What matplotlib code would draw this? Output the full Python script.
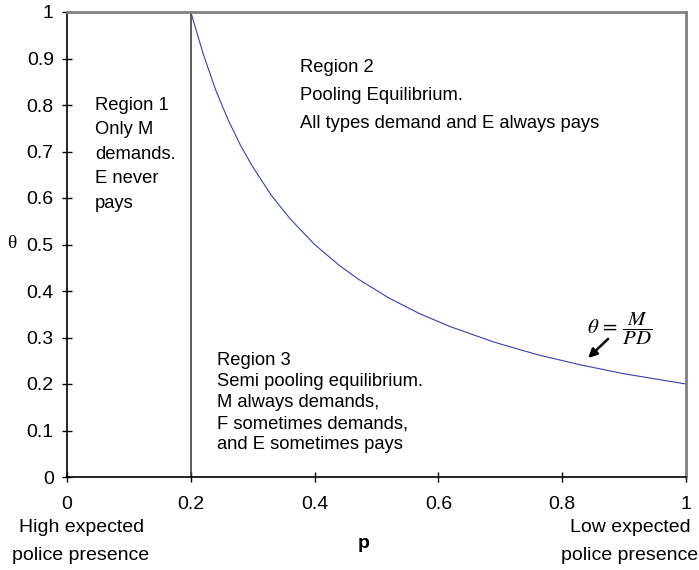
import numpy as np
import matplotlib
matplotlib.use('Agg')
import matplotlib.pyplot as plt

plt.rcParams['font.family'] = ['Liberation Sans', 'DejaVu Sans']
plt.rcParams['mathtext.fontset'] = 'stix'

# curve theta = M/(PD)
p_vals = [0.2, 0.22, 0.24, 0.26, 0.28, 0.3, 0.33, 0.36, 0.4, 0.44, 0.47,
          0.52, 0.57, 0.62, 0.69, 0.76, 0.83, 0.9, 1.0]
theta_vals = [1.0, 0.91, 0.833, 0.769, 0.714, 0.667, 0.606, 0.556, 0.5, 0.455, 0.426,
              0.385, 0.351, 0.323, 0.29, 0.263, 0.241, 0.222, 0.2]

x_ticks = [0, 0.2, 0.4, 0.6, 0.8, 1]
x_ticklabels = ['0', '0.2', '0.4', '0.6', '0.8', '1']
y_ticks = [0, 0.1, 0.2, 0.3, 0.4, 0.5, 0.6, 0.7, 0.8, 0.9, 1]
y_ticklabels = ['0', '0.1', '0.2', '0.3', '0.4', '0.5', '0.6', '0.7', '0.8', '0.9', '1']

region1 = ['Region 1', 'Only M', 'demands.', 'E never', 'pays']
region2 = ['Region 2', 'Pooling Equilibrium.', 'All types demand and E always pays']
region3 = ['Region 3', 'Semi pooling equilibrium.', 'M always demands,',
           'F sometimes demands,', 'and E sometimes pays']

fs = 13.2
fs_tick = 14

fig = plt.figure(figsize=(6.99, 5.70), dpi=100)
ax = fig.add_axes([67 / 699, 1 - 477 / 570, (686 - 67) / 699, (477 - 12) / 570])

ax.plot(p_vals, theta_vals, color='#3c3cb4', lw=0.8)
ax.axvline(0.2, color='#404040', lw=1.2)

ax.set_xlim(0, 1)
ax.set_ylim(0, 1)
ax.set_xticks(x_ticks)
ax.set_xticklabels(x_ticklabels)
ax.set_yticks(y_ticks)
ax.set_yticklabels(y_ticklabels)
ax.tick_params(axis='x', direction='inout', length=7, width=1, pad=10, labelsize=fs_tick)
ax.tick_params(axis='y', direction='inout', length=7, width=1, pad=6, labelsize=fs_tick)

for s in ['left', 'bottom']:
    ax.spines[s].set_color('black')
    ax.spines[s].set_linewidth(1.2)
for s in ['top', 'right']:
    ax.spines[s].set_color('#808080')
    ax.spines[s].set_linewidth(2)

# region texts
for i, t in enumerate(region1):
    ax.text(0.045, 0.80 - i * 0.053, t, fontsize=fs, va='center', ha='left')
for i, t in enumerate(region2):
    ax.text(0.376, 0.88 - i * 0.06, t, fontsize=fs, va='center', ha='left')
for i, t in enumerate(region3):
    ax.text(0.2425, 0.25 - i * 0.045, t, fontsize=fs, va='center', ha='left')

# formula + arrow
ax.text(0.84, 0.318, r'$\theta\,=\,\dfrac{M}{PD}$', fontsize=15, va='center', ha='left')
ax.annotate('', xy=(0.842, 0.256), xytext=(0.874, 0.297),
            arrowprops=dict(arrowstyle='-|>', color='black', lw=1.8,
                            mutation_scale=13, shrinkA=0, shrinkB=0))

# axis labels
fig.text(12 / 699, 1 - 243 / 570, 'θ', fontsize=14, family='Liberation Serif',
         ha='center', va='center')
fig.text(364 / 699, 1 - 543 / 570, 'p', fontsize=fs_tick, fontweight='bold', ha='center', va='center')
fig.text(82 / 699, 1 - 528 / 570, 'High expected', fontsize=fs_tick, ha='center', va='center')
fig.text(81 / 699, 1 - 556 / 570, 'police presence', fontsize=fs_tick, ha='center', va='center')
fig.text(630 / 699, 1 - 528 / 570, 'Low expected', fontsize=fs_tick, ha='center', va='center')
fig.text(630 / 699, 1 - 556 / 570, 'police presence', fontsize=fs_tick, ha='center', va='center')

fig.savefig('out.png', dpi=100)
